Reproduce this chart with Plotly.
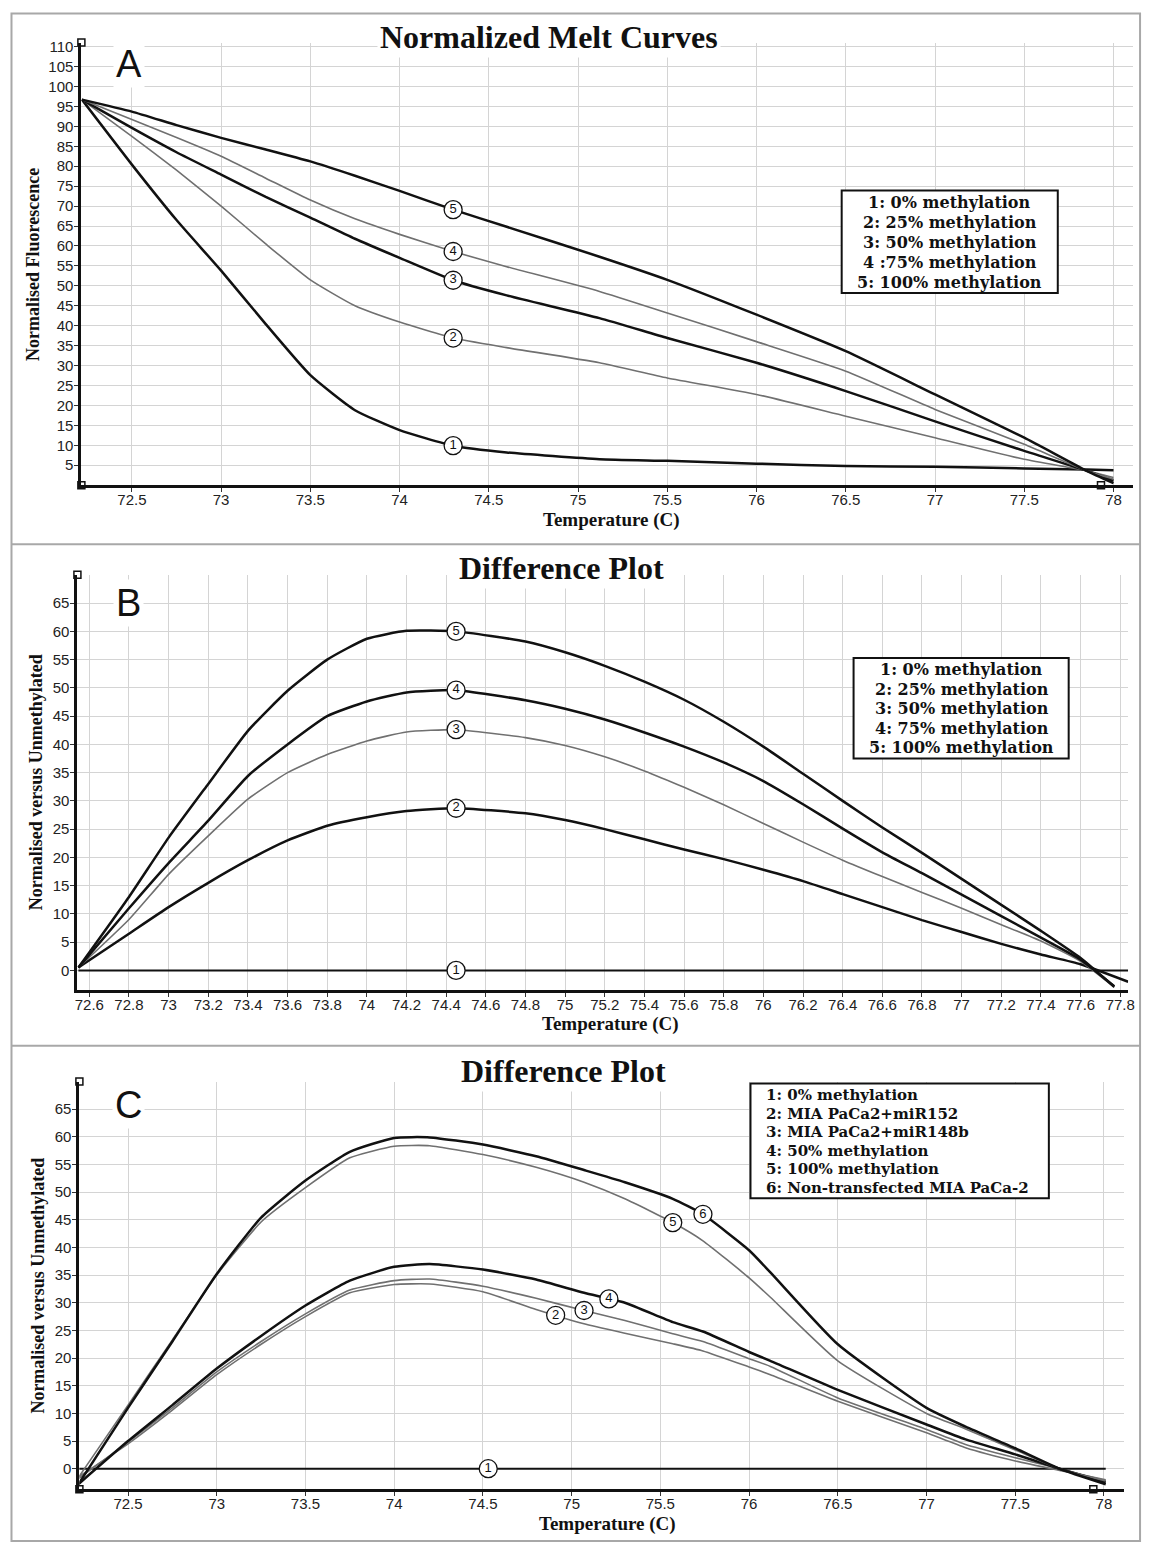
import numpy as np
import plotly.graph_objects as go

# page is drawn with the browser's default 8px body margin -> shift everything by 8px
PAGE_W, PAGE_H = 1153, 1547
OFF = 8
W, H = PAGE_W - OFF, PAGE_H - OFF

# ---------------- Panel A : Normalized melt curves ----------------
tA = [72.22, 72.5, 72.75, 73.0, 73.25, 73.5, 73.75, 74.0, 74.3, 74.6, 75.12, 75.5, 76.0, 76.5, 77.0, 77.5, 77.85, 78.0]
a1 = [96.7, 80.4, 66.5, 53.8, 40.4, 27.6, 18.8, 13.8, 9.9, 8.2, 6.5, 6.1, 5.4, 4.8, 4.6, 4.2, 3.9, 3.75]
a2 = [96.7, 87.5, 79.0, 70.0, 60.5, 51.5, 45.0, 40.9, 36.9, 34.5, 30.7, 26.9, 22.75, 17.3, 11.9, 6.5, 3.6, 1.9]
a3 = [96.7, 89.6, 83.5, 77.9, 72.3, 67.1, 61.8, 57.0, 51.4, 47.6, 41.9, 36.9, 30.7, 23.6, 16.0, 8.6, 3.6, 1.1]
a4 = [96.7, 91.7, 87.2, 82.5, 77.0, 71.5, 66.8, 62.9, 58.6, 54.8, 48.6, 43.2, 36.0, 28.6, 19.0, 10.25, 3.6, 1.5]
a5 = [96.7, 93.7, 90.3, 87.1, 84.2, 81.2, 77.6, 73.8, 69.1, 64.8, 57.3, 51.5, 42.75, 33.6, 22.75, 11.9, 3.6, 0.5]
labA_x = 74.3
xticksA = [72.5, 73, 73.5, 74, 74.5, 75, 75.5, 76, 76.5, 77, 77.5, 78]
yticksA = list(range(5, 111, 5))
legendA = ["1: 0% methylation", "2: 25% methylation", "3: 50% methylation",
           "4 :75% methylation", "5: 100% methylation"]

# ---------------- Panel B : Difference plot ----------------
tB = [72.545, 72.8, 73.0, 73.2, 73.4, 73.6, 73.8, 74.0, 74.2, 74.45, 74.8, 75.0, 75.2, 75.4,
      75.6, 75.8, 76.0, 76.2, 76.4, 76.6, 76.8, 77.0, 77.2, 77.4, 77.6, 77.77]
tB2 = tB[:-1] + [77.84]
b1 = [0.0] * len(tB2)
b2 = [0.5, 6.5, 11.2, 15.5, 19.5, 23.0, 25.6, 27.1, 28.2, 28.7, 27.8, 26.6, 25.0, 23.2,
      21.4, 19.7, 17.8, 15.8, 13.5, 11.2, 8.9, 6.8, 4.7, 2.8, 1.1, -2.0]
b3 = [0.5, 9.0, 17.0, 23.8, 30.3, 35.0, 38.2, 40.6, 42.2, 42.6, 41.2, 39.8, 37.8, 35.3,
      32.4, 29.3, 26.0, 22.7, 19.5, 16.6, 13.8, 11.0, 8.1, 5.2, 1.6, -3.0]
b4 = [0.5, 11.0, 19.0, 26.5, 34.4, 40.0, 45.0, 47.6, 49.2, 49.6, 47.8, 46.3, 44.4, 42.1,
      39.6, 36.8, 33.5, 29.4, 25.1, 20.9, 17.2, 13.4, 9.6, 5.8, 1.9, -2.8]
b5 = [0.5, 13.0, 23.5, 33.0, 42.4, 49.5, 55.0, 58.7, 60.1, 60.0, 58.2, 56.3, 53.9, 51.1,
      47.9, 44.0, 39.6, 34.8, 30.0, 25.3, 20.8, 16.2, 11.6, 7.0, 2.2, -2.9]
labB_x = 74.45
xticksB = [72.6, 72.8, 73, 73.2, 73.4, 73.6, 73.8, 74, 74.2, 74.4, 74.6, 74.8, 75, 75.2,
           75.4, 75.6, 75.8, 76, 76.2, 76.4, 76.6, 76.8, 77, 77.2, 77.4, 77.6, 77.8]
yticksB = list(range(0, 66, 5))
legendB = ["1: 0% methylation", "2: 25% methylation", "3: 50% methylation",
           "4: 75% methylation", "5: 100% methylation"]

# ---------------- Panel C : Difference plot (cell lines) ----------------
tC = [72.22, 72.5, 72.75, 73.0, 73.25, 73.5, 73.75, 74.0, 74.2, 74.5, 74.8, 75.07, 75.3,
      75.57, 75.74, 76.0, 76.12, 76.5, 77.0, 77.22, 77.5, 77.75, 78.01]
c1 = [0.0] * len(tC)
c2 = [-1.5, 4.5, 10.6, 17.0, 22.5, 27.5, 31.8, 33.3, 33.4, 32.0, 28.8, 26.2, 24.5,
      22.6, 21.3, 18.4, 17.0, 12.2, 6.5, 3.8, 1.4, -0.3, -2.0]
c3 = [-1.8, 4.8, 11.0, 17.5, 23.0, 28.0, 32.3, 34.0, 34.3, 33.0, 30.8, 28.6, 26.8,
      24.4, 23.0, 19.9, 18.5, 12.8, 7.1, 4.4, 2.0, 0.0, -2.2]
c4 = [-2.8, 5.0, 11.5, 18.1, 24.0, 29.5, 34.0, 36.5, 37.0, 36.0, 34.2, 31.8, 30.0,
      26.5, 24.8, 21.1, 19.5, 14.25, 8.0, 5.3, 2.6, 0.0, -2.5]
c5 = [-1.6, 11.5, 23.3, 35.0, 44.6, 50.8, 56.2, 58.3, 58.4, 56.8, 54.5, 51.8, 48.8,
      44.5, 41.2, 34.5, 31.0, 19.5, 10.0, 7.2, 3.4, 0.0, -2.2]
c6 = [-2.8, 11.0, 23.0, 35.2, 45.4, 52.1, 57.3, 59.8, 59.9, 58.6, 56.5, 54.0, 51.8,
      48.8, 46.0, 39.5, 35.5, 22.5, 11.0, 7.6, 3.7, 0.0, -2.8]
labC_x = [74.53, 74.91, 75.07, 75.21, 75.57, 75.74]
xticksC = [72.5, 73, 73.5, 74, 74.5, 75, 75.5, 76, 76.5, 77, 77.5, 78]
yticksC = list(range(0, 66, 5))
legendC = ["1: 0% methylation", "2: MIA PaCa2+miR152", "3: MIA PaCa2+miR148b",
           "4: 50% methylation", "5: 100% methylation", "6: Non-transfected MIA PaCa-2"]

# ---------------- styling ----------------
BLACK = "#111111"
GRAY = "#707070"
SERIF = "Liberation Serif, Times New Roman, serif"
WIDE_SERIF = "DejaVu Serif, serif"
SANS = "Liberation Sans, Arial, sans-serif"


def fx(px):  # page pixel -> paper
    return (px - OFF) / W


def fy(py):
    return 1 - (py - OFF) / H


fig = go.Figure()


def add_curves(xref, yref, series, label_xs):
    lx, ly, lt = [], [], []
    for i, (xs, ys, col, wd) in enumerate(series):
        fig.add_trace(go.Scatter(x=xs, y=ys, mode="lines", xaxis=xref, yaxis=yref,
                                 line=dict(color=col, width=wd, shape="spline", smoothing=0.5),
                                 showlegend=False, hoverinfo="skip"))
        x0 = label_xs[i]
        lx.append(x0)
        ly.append(float(np.interp(x0, xs, ys)))
        lt.append(str(i + 1))
    fig.add_trace(go.Scatter(x=lx, y=ly, mode="markers+text", xaxis=xref, yaxis=yref,
                             text=lt, textposition="middle center",
                             textfont=dict(family=SANS, size=13, color=BLACK),
                             marker=dict(symbol="circle", size=18, color="white",
                                         line=dict(color=BLACK, width=1.3)),
                             cliponaxis=False, showlegend=False, hoverinfo="skip"))


add_curves("x", "y",
           [(tA, a1, BLACK, 2.5), (tA, a2, GRAY, 1.6), (tA, a3, BLACK, 2.5),
            (tA, a4, GRAY, 1.6), (tA, a5, BLACK, 2.5)], [labA_x] * 5)
add_curves("x2", "y2",
           [(tB2, b1, BLACK, 2.0), (tB2, b2, BLACK, 2.5), (tB, b3, GRAY, 1.6),
            (tB, b4, BLACK, 2.5), (tB, b5, BLACK, 2.5)], [labB_x] * 5)
add_curves("x3", "y3",
           [(tC, c1, BLACK, 2.0), (tC, c2, GRAY, 1.6), (tC, c3, GRAY, 1.6),
            (tC, c4, BLACK, 2.5), (tC, c5, GRAY, 1.6), (tC, c6, BLACK, 2.5)], labC_x)

panels = [
    dict(xd=(79, 1140), yd=(37.7, 481.7), xr=[72.217, 78.11], yr=[0, 111], xt=xticksA, yt=yticksA),
    dict(xd=(75, 1135), yd=(571.7, 987.8), xr=[72.54, 77.84], yr=[-3.4, 70], xt=xticksB, yt=yticksB),
    dict(xd=(77, 1131), yd=(1080, 1489), xr=[72.226, 78.114], yr=[-3.7, 70], xt=xticksC, yt=yticksC),
]

axis_common = dict(showline=True, linecolor=BLACK, linewidth=3, ticks="outside", ticklen=4,
                   tickcolor="#333333", tickwidth=1, showgrid=True, gridcolor="#d4d4d4",
                   gridwidth=1, zeroline=False, tickfont=dict(family=SANS, size=15, color="#222222"))

layout_axes = {}
for i, p in enumerate(panels):
    sfx = "" if i == 0 else str(i + 1)
    layout_axes["xaxis" + sfx] = dict(axis_common, domain=[fx(p["xd"][0]), fx(p["xd"][1])],
                                      range=p["xr"], anchor="y" + sfx, tickmode="array",
                                      tickvals=p["xt"], ticktext=[f"{v:g}" for v in p["xt"]],
                                      ticklabelstandoff=-5)
    layout_axes["yaxis" + sfx] = dict(axis_common, domain=[fy(p["yd"][1]), fy(p["yd"][0])],
                                      range=p["yr"], anchor="x" + sfx, tickmode="array",
                                      tickvals=p["yt"], ticktext=[str(v) for v in p["yt"]],
                                      ticklabelstandoff=-2)

handles = [("x", "y", [panels[0]["xr"][0], panels[0]["xr"][0], 77.93], [panels[0]["yr"][1], 0, 0]),
           ("x2", "y2", [panels[1]["xr"][0]], [panels[1]["yr"][1]]),
           ("x3", "y3", [panels[2]["xr"][0], panels[2]["xr"][0], 77.94],
            [panels[2]["yr"][1], panels[2]["yr"][0], panels[2]["yr"][0]])]
for xr_, yr_, hx, hy in handles:
    fig.add_trace(go.Scatter(x=hx, y=hy, mode="markers", xaxis=xr_, yaxis=yr_,
                             marker=dict(symbol="square", size=7, color="white",
                                         line=dict(color=BLACK, width=1.5)),
                             cliponaxis=False, showlegend=False, hoverinfo="skip"))

annotations = []
shapes = []


def txt(text, x, y, size, family=SERIF, bg=None, angle=0, xanchor="center"):
    d = dict(text=text, x=fx(x), y=fy(y), xref="paper", yref="paper", showarrow=False,
             xanchor=xanchor, yanchor="middle", textangle=angle,
             font=dict(family=family, size=size, color=BLACK))
    if bg:
        d.update(bgcolor=bg, borderpad=2)
    annotations.append(d)


# titles
txt("<b>Normalized Melt Curves</b>", 551, 32, 32, bg="white")
txt("<b>Difference Plot</b>", 563, 565, 32, bg="white")
txt("<b>Difference Plot</b>", 565, 1069, 32, bg="white")
# panel letters
txt("A", 127, 59, 38, family=SANS, bg="white")
txt("B", 127, 600, 38, family=SANS, bg="white")
txt("C", 127, 1104, 38, family=SANS, bg="white")
# axis titles
txt("<b>Temperature (C)</b>", 614, 517, 19)
txt("<b>Temperature (C)</b>", 613, 1022, 19)
txt("<b>Temperature (C)</b>", 610, 1524, 19)
txt("<b>Normalised Fluorescence</b>", 30, 260, 18, angle=-90)
txt("<b>Normalised versus Unmethylated</b>", 34, 780, 18, angle=-90)
txt("<b>Normalised versus Unmethylated</b>", 35, 1285, 18, angle=-90)

# legend boxes: box + one text line each
legends = [
    dict(lines=legendA, box=(846, 1064, 186, 289), ys=[198, 218, 238, 258, 278], x=955, anchor="center", size=16),
    dict(lines=legendB, box=(858, 1075, 655, 756), ys=[667, 687, 706, 726, 745], x=967, anchor="center", size=16),
    dict(lines=legendC, box=(754, 1055, 1082, 1197), ys=[1094, 1112.5, 1131, 1149.5, 1168, 1186.5],
         x=768, anchor="left", size=15),
]
for lg in legends:
    x0, x1, y0, y1 = lg["box"]
    shapes.append(dict(type="rect", xref="paper", yref="paper", x0=fx(x0), x1=fx(x1), y0=fy(y1), y1=fy(y0),
                       fillcolor="white", line=dict(color=BLACK, width=2), layer="above"))
    for s, yy in zip(lg["lines"], lg["ys"]):
        txt(f"<b>{s}</b>", lg["x"], yy, lg["size"], family=WIDE_SERIF, xanchor=lg["anchor"])

# frame and panel separators
FR = "#a8a8a8"
shapes += [dict(type="rect", xref="paper", yref="paper", x0=fx(8.5), x1=fx(1147), y0=fy(1541), y1=fy(8.5),
                line=dict(color=FR, width=2)),
           dict(type="line", xref="paper", yref="paper", x0=fx(8.5), x1=fx(1147), y0=fy(541), y1=fy(541),
                line=dict(color=FR, width=2)),
           dict(type="line", xref="paper", yref="paper", x0=fx(8.5), x1=fx(1147), y0=fy(1044), y1=fy(1044),
                line=dict(color=FR, width=2))]

fig.update_layout(width=W, height=H, margin=dict(l=0, r=0, t=0, b=0),
                  paper_bgcolor="white", plot_bgcolor="white",
                  annotations=annotations, shapes=shapes, showlegend=False, **layout_axes)

fig.write_html("out.html")
